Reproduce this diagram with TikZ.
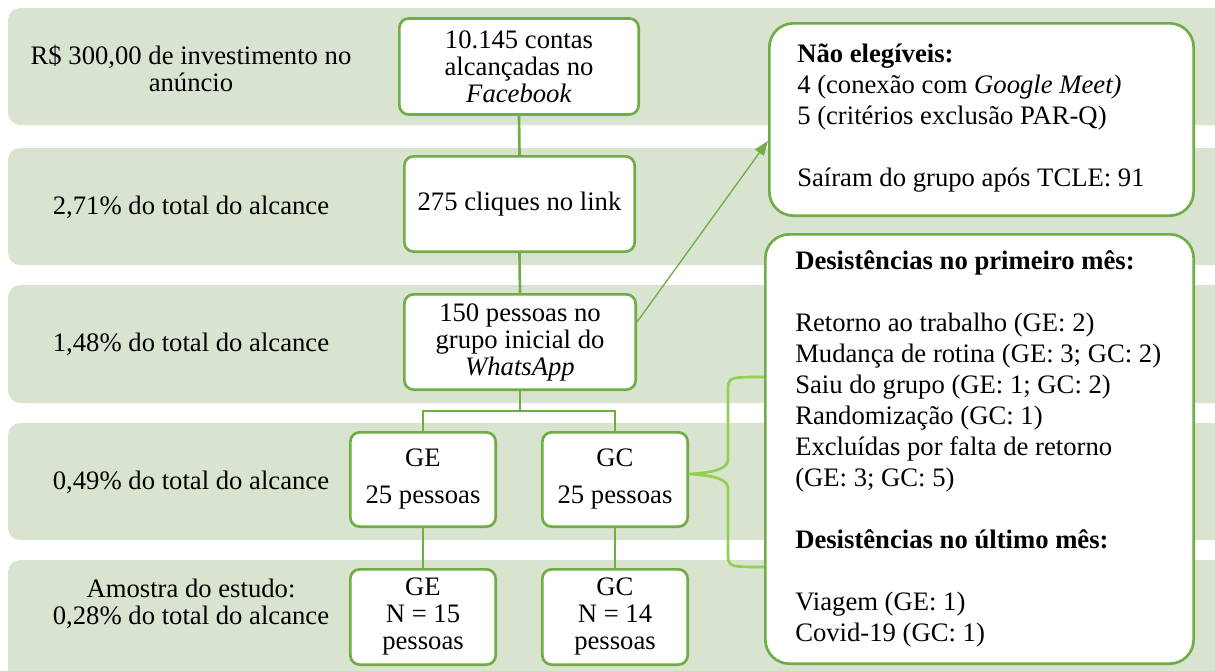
\documentclass[tikz,border=0pt]{standalone}
\usepackage{fontspec}
\setmainfont{Liberation Serif}
\usetikzlibrary{arrows.meta}
\definecolor{bandcol}{HTML}{D8E4D0}
\definecolor{boxg}{HTML}{70AD47}
\definecolor{brk}{HTML}{92D050}
\begin{document}
\begin{tikzpicture}[x=0.75pt,y=-0.75pt,
  every node/.style={font=\fontsize{20}{20.25}\selectfont},
  bandbox/.style={fill=bandcol, rounded corners=9pt},
  flowbox/.style={draw=boxg, line width=2pt, fill=white, rounded corners=7pt, align=center, inner sep=0pt},
  sidebox/.style={draw=boxg, line width=2pt, fill=white, rounded corners=18pt, inner sep=0pt},
  conn/.style={draw=boxg, line width=2pt},
  lbl/.style={align=center, inner sep=0pt},
  sidetext/.style={align=left, inner sep=0pt, anchor=west, font=\fontsize{20}{23.25}\selectfont},
  thinarrow/.style={draw=boxg, line width=1pt, -{Triangle[length=11pt,width=8pt]}},
  bracketline/.style={draw=brk, line width=2pt}]
\useasboundingbox (0,0) rectangle (1215,671);
\clip (0,0) rectangle (1215,671);
% bands
\fill[bandcol, rounded corners=9pt] (8,8) rectangle (1240,125);
\fill[bandcol, rounded corners=9pt] (8,148) rectangle (1240,265);
\fill[bandcol, rounded corners=9pt] (8,285) rectangle (1240,403);
\fill[bandcol, rounded corners=9pt] (8,423) rectangle (1240,540);
\fill[bandcol, rounded corners=9pt] (8,560) rectangle (1240,700);
% left labels
\node[lbl] (l1) at (191,68) {R\$ 300,00 de investimento no\\anúncio};
\node[lbl] (l2) at (191,207) {2,71\% do total do alcance};
\node[lbl] (l3) at (191,344) {1,48\% do total do alcance};
\node[lbl] (l4) at (191,482) {0,49\% do total do alcance};
\node[lbl] (l5) at (191,604) {Amostra do estudo:\\0,28\% do total do alcance};
% flow boxes
\node[flowbox, minimum width=179.5pt, minimum height=72pt] (A) at (519,66.5) {10.145 contas\\alcançadas no\\\textit{Facebook}};
\node[flowbox, minimum width=172.75pt, minimum height=71.5pt] (B) at (519.5,204) {275 cliques no link};
\node[flowbox, minimum width=173.5pt, minimum height=71.5pt] (C) at (520,342) {150 pessoas no\\grupo inicial do\\\textit{WhatsApp}};
\node[flowbox, minimum width=109pt, minimum height=70.75pt] (GE) at (423,479.5) {GE\\[7.5pt]25 pessoas};
\node[flowbox, minimum width=109pt, minimum height=70.75pt] (GC) at (615,479.5) {GC\\[7.5pt]25 pessoas};
\node[flowbox, minimum width=109pt, minimum height=71.5pt] (GE2) at (423,617) {GE\\N = 15\\pessoas};
\node[flowbox, minimum width=109pt, minimum height=71.5pt] (GC2) at (615,617) {GC\\N = 14\\pessoas};
% side boxes
\node[sidebox, minimum width=318.25pt, minimum height=144.25pt] (NE) at (981.5,119.5) {};
\node[sidetext] (NEt) at (797,118) {\textbf{Não elegíveis:}\\4 (conexão com \textit{Google Meet)}\\5 (critérios exclusão PAR-Q)\\\mbox{}\\Saíram do grupo após TCLE: 91};
\node[sidebox, minimum width=321.25pt, minimum height=322pt] (D) at (979.5,449) {};
\node[sidetext] (Dt) at (795,449) {\textbf{Desistências no primeiro mês:}\\\mbox{}\\Retorno ao trabalho (GE: 2)\\Mudança de rotina (GE: 3; GC: 2)\\Saiu do grupo (GE: 1; GC: 2)\\Randomização (GC: 1)\\Excluídas por falta de retorno\\(GE: 3; GC: 5)\\\mbox{}\\\textbf{Desistências no último mês:}\\\mbox{}\\Viagem (GE: 1)\\Covid-19 (GC: 1)};
% connectors
\coordinate (split) at (519,411);
\draw[conn] (A.south) -- (B.north);
\draw[conn] (B.south) -- (C.north);
\draw[conn] (C.south) -- (C.south |- split);
\draw[conn] (GE.north) -- (GE.north |- split) -- (GC.north |- split) -- (GC.north);
\draw[conn] (GE.south) -- (GE2.north);
\draw[conn] (GC.south) -- (GC2.north);
\draw[thinarrow] ([yshift=15pt]C.east) -- ([yshift=-16pt]NE.west);
% bracket
\coordinate (bt) at (765,377);
\coordinate (bb) at (765,567);
\coordinate (cusp) at (689,474);
\draw[bracketline] (D.west |- bt) .. controls (728,377) .. (728,392) -- (728,460)
  .. controls (728,471) and (705,473) .. (GC.east |- cusp)
  .. controls (705,475) and (728,477) .. (728,488) -- (728,552)
  .. controls (728,567) .. (D.west |- bb);
\end{tikzpicture}
\end{document}
